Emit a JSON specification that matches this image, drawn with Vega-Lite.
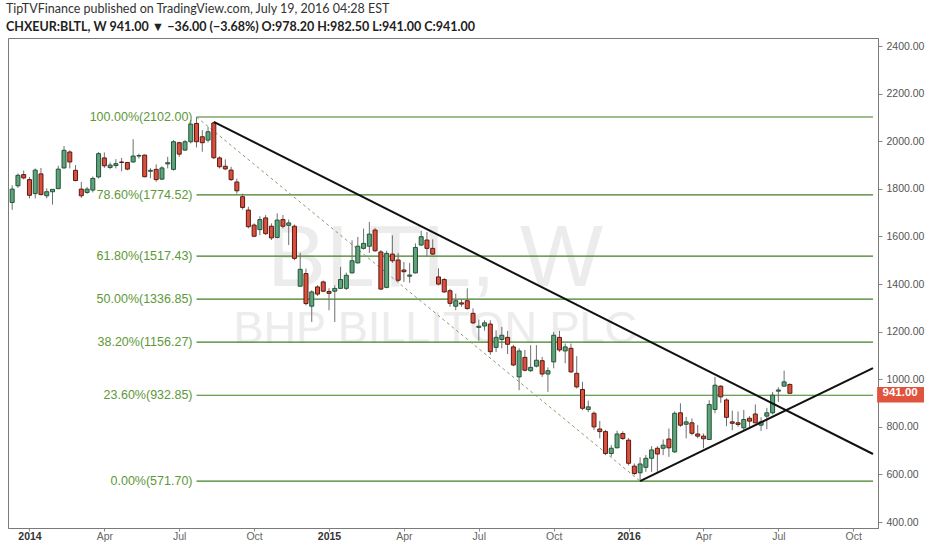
{
  "$schema": "https://vega.github.io/schema/vega-lite/v6.json",
  "width": 870,
  "height": 490,
  "autosize": {"type": "none"},
  "padding": {"left": 8, "top": 38, "right": 54, "bottom": 22},
  "background": "white",
  "title": {
    "text": "TipTVFinance published on TradingView.com, July 19, 2016 04:28 EST",
    "subtitle": "CHXEUR:BLTL, W  941.00 ▼ −36.00 (−3.68%)  O:978.20  H:982.50  L:941.00  C:941.00",
    "anchor": "start",
    "frame": "group",
    "offset": 5,
    "dx": -2,
    "font": "Lato",
    "fontSize": 12.5,
    "fontWeight": "normal",
    "color": "#333333",
    "subtitleFont": "Lato",
    "subtitleFontSize": 12.5,
    "subtitleFontWeight": "bold",
    "subtitleColor": "#222222",
    "subtitlePadding": 5
  },
  "datasets": {
    "candles": [
      {"date": "2013-12-16", "open": 1743, "high": 1815, "low": 1712, "close": 1799},
      {"date": "2013-12-23", "open": 1813, "high": 1865, "low": 1804, "close": 1857},
      {"date": "2013-12-30", "open": 1860, "high": 1877, "low": 1840, "close": 1846},
      {"date": "2014-01-06", "open": 1839, "high": 1850, "low": 1760, "close": 1773},
      {"date": "2014-01-13", "open": 1780, "high": 1886, "low": 1760, "close": 1879},
      {"date": "2014-01-20", "open": 1863, "high": 1888, "low": 1773, "close": 1776},
      {"date": "2014-01-27", "open": 1771, "high": 1802, "low": 1760, "close": 1788},
      {"date": "2014-02-03", "open": 1788, "high": 1799, "low": 1734, "close": 1798},
      {"date": "2014-02-10", "open": 1801, "high": 1897, "low": 1799, "close": 1883},
      {"date": "2014-02-17", "open": 1888, "high": 1980, "low": 1886, "close": 1962},
      {"date": "2014-02-24", "open": 1955, "high": 1962, "low": 1886, "close": 1913},
      {"date": "2014-03-03", "open": 1878, "high": 1900, "low": 1832, "close": 1835},
      {"date": "2014-03-10", "open": 1799, "high": 1829, "low": 1762, "close": 1771},
      {"date": "2014-03-17", "open": 1785, "high": 1808, "low": 1779, "close": 1799},
      {"date": "2014-03-24", "open": 1795, "high": 1852, "low": 1785, "close": 1844},
      {"date": "2014-03-31", "open": 1850, "high": 1955, "low": 1844, "close": 1948},
      {"date": "2014-04-07", "open": 1930, "high": 1953, "low": 1888, "close": 1897},
      {"date": "2014-04-14", "open": 1890, "high": 1911, "low": 1883, "close": 1900},
      {"date": "2014-04-21", "open": 1898, "high": 1925, "low": 1886, "close": 1906},
      {"date": "2014-04-28", "open": 1913, "high": 1930, "low": 1874, "close": 1911},
      {"date": "2014-05-05", "open": 1911, "high": 1913, "low": 1878, "close": 1883},
      {"date": "2014-05-12", "open": 1913, "high": 2009, "low": 1911, "close": 1938},
      {"date": "2014-05-19", "open": 1938, "high": 1948, "low": 1928, "close": 1940},
      {"date": "2014-05-26", "open": 1942, "high": 1944, "low": 1849, "close": 1851},
      {"date": "2014-06-02", "open": 1874, "high": 1887, "low": 1845, "close": 1878},
      {"date": "2014-06-09", "open": 1882, "high": 1903, "low": 1830, "close": 1839},
      {"date": "2014-06-16", "open": 1841, "high": 1895, "low": 1838, "close": 1888},
      {"date": "2014-06-23", "open": 1905, "high": 1935, "low": 1886, "close": 1910},
      {"date": "2014-06-30", "open": 1882, "high": 2005, "low": 1877, "close": 1998},
      {"date": "2014-07-07", "open": 1994, "high": 1998, "low": 1935, "close": 1946},
      {"date": "2014-07-14", "open": 1963, "high": 2005, "low": 1960, "close": 1998},
      {"date": "2014-07-21", "open": 1998, "high": 2089, "low": 1991, "close": 2072},
      {"date": "2014-07-28", "open": 2075, "high": 2102, "low": 1974, "close": 1998},
      {"date": "2014-08-04", "open": 2019, "high": 2047, "low": 1956, "close": 1994},
      {"date": "2014-08-11", "open": 2005, "high": 2061, "low": 1995, "close": 2040},
      {"date": "2014-08-18", "open": 2077, "high": 2082, "low": 1925, "close": 1931},
      {"date": "2014-08-25", "open": 1930, "high": 1937, "low": 1886, "close": 1893},
      {"date": "2014-09-01", "open": 1895, "high": 1924, "low": 1879, "close": 1884},
      {"date": "2014-09-08", "open": 1879, "high": 1893, "low": 1833, "close": 1839},
      {"date": "2014-09-15", "open": 1829, "high": 1843, "low": 1780, "close": 1792},
      {"date": "2014-09-22", "open": 1767, "high": 1780, "low": 1713, "close": 1722},
      {"date": "2014-09-29", "open": 1711, "high": 1725, "low": 1634, "close": 1641},
      {"date": "2014-10-06", "open": 1648, "high": 1655, "low": 1597, "close": 1601},
      {"date": "2014-10-13", "open": 1629, "high": 1685, "low": 1605, "close": 1671},
      {"date": "2014-10-20", "open": 1678, "high": 1690, "low": 1606, "close": 1612},
      {"date": "2014-10-27", "open": 1643, "high": 1655, "low": 1585, "close": 1594},
      {"date": "2014-11-03", "open": 1596, "high": 1697, "low": 1592, "close": 1669},
      {"date": "2014-11-10", "open": 1671, "high": 1690, "low": 1634, "close": 1643},
      {"date": "2014-11-17", "open": 1647, "high": 1671, "low": 1564, "close": 1657},
      {"date": "2014-11-24", "open": 1643, "high": 1650, "low": 1500, "close": 1508},
      {"date": "2014-12-01", "open": 1391, "high": 1531, "low": 1389, "close": 1462},
      {"date": "2014-12-08", "open": 1444, "high": 1465, "low": 1310, "close": 1318},
      {"date": "2014-12-15", "open": 1307, "high": 1374, "low": 1241, "close": 1367},
      {"date": "2014-12-22", "open": 1388, "high": 1395, "low": 1350, "close": 1358},
      {"date": "2014-12-29", "open": 1409, "high": 1415, "low": 1366, "close": 1370},
      {"date": "2015-01-05", "open": 1369, "high": 1382, "low": 1290, "close": 1361},
      {"date": "2015-01-12", "open": 1370, "high": 1395, "low": 1241, "close": 1382},
      {"date": "2015-01-19", "open": 1382, "high": 1472, "low": 1382, "close": 1419},
      {"date": "2015-01-26", "open": 1382, "high": 1448, "low": 1375, "close": 1437},
      {"date": "2015-02-02", "open": 1447, "high": 1584, "low": 1445, "close": 1498},
      {"date": "2015-02-09", "open": 1489, "high": 1598, "low": 1487, "close": 1559},
      {"date": "2015-02-16", "open": 1550, "high": 1633, "low": 1545, "close": 1571},
      {"date": "2015-02-23", "open": 1559, "high": 1661, "low": 1531, "close": 1610},
      {"date": "2015-03-02", "open": 1627, "high": 1636, "low": 1536, "close": 1540},
      {"date": "2015-03-09", "open": 1535, "high": 1543, "low": 1375, "close": 1379},
      {"date": "2015-03-16", "open": 1386, "high": 1540, "low": 1382, "close": 1529},
      {"date": "2015-03-23", "open": 1526, "high": 1605, "low": 1489, "close": 1498},
      {"date": "2015-03-30", "open": 1501, "high": 1531, "low": 1409, "close": 1416},
      {"date": "2015-04-06", "open": 1459, "high": 1493, "low": 1409, "close": 1452},
      {"date": "2015-04-13", "open": 1433, "high": 1489, "low": 1405, "close": 1438},
      {"date": "2015-04-20", "open": 1447, "high": 1571, "low": 1445, "close": 1554},
      {"date": "2015-04-27", "open": 1564, "high": 1624, "low": 1560, "close": 1599},
      {"date": "2015-05-04", "open": 1585, "high": 1619, "low": 1515, "close": 1550},
      {"date": "2015-05-11", "open": 1550, "high": 1588, "low": 1522, "close": 1526},
      {"date": "2015-05-18", "open": 1430, "high": 1466, "low": 1395, "close": 1400},
      {"date": "2015-05-25", "open": 1419, "high": 1425, "low": 1363, "close": 1367},
      {"date": "2015-06-01", "open": 1372, "high": 1380, "low": 1305, "close": 1319},
      {"date": "2015-06-08", "open": 1307, "high": 1360, "low": 1290, "close": 1330},
      {"date": "2015-06-15", "open": 1321, "high": 1335, "low": 1305, "close": 1316},
      {"date": "2015-06-22", "open": 1330, "high": 1382, "low": 1293, "close": 1297},
      {"date": "2015-06-29", "open": 1277, "high": 1298, "low": 1232, "close": 1237},
      {"date": "2015-07-06", "open": 1218, "high": 1251, "low": 1162, "close": 1223},
      {"date": "2015-07-13", "open": 1224, "high": 1248, "low": 1204, "close": 1237},
      {"date": "2015-07-20", "open": 1232, "high": 1248, "low": 1103, "close": 1116},
      {"date": "2015-07-27", "open": 1134, "high": 1206, "low": 1115, "close": 1176},
      {"date": "2015-08-03", "open": 1167, "high": 1220, "low": 1130, "close": 1185},
      {"date": "2015-08-10", "open": 1176, "high": 1203, "low": 1106, "close": 1147},
      {"date": "2015-08-17", "open": 1136, "high": 1145, "low": 1055, "close": 1060},
      {"date": "2015-08-24", "open": 1010, "high": 1130, "low": 954, "close": 1119},
      {"date": "2015-08-31", "open": 1092, "high": 1123, "low": 1033, "close": 1038},
      {"date": "2015-09-07", "open": 1036, "high": 1143, "low": 1031, "close": 1050},
      {"date": "2015-09-14", "open": 1055, "high": 1143, "low": 1050, "close": 1080},
      {"date": "2015-09-21", "open": 1078, "high": 1094, "low": 1010, "close": 1022},
      {"date": "2015-09-28", "open": 1022, "high": 1050, "low": 947, "close": 1036},
      {"date": "2015-10-05", "open": 1073, "high": 1199, "low": 1046, "close": 1185},
      {"date": "2015-10-12", "open": 1176, "high": 1203, "low": 1115, "close": 1123},
      {"date": "2015-10-19", "open": 1119, "high": 1150, "low": 1067, "close": 1136},
      {"date": "2015-10-26", "open": 1130, "high": 1150, "low": 1027, "close": 1031},
      {"date": "2015-11-02", "open": 1025, "high": 1097, "low": 961, "close": 968},
      {"date": "2015-11-09", "open": 957, "high": 989, "low": 870, "close": 878},
      {"date": "2015-11-16", "open": 873, "high": 910, "low": 862, "close": 884},
      {"date": "2015-11-23", "open": 857, "high": 865, "low": 787, "close": 800},
      {"date": "2015-11-30", "open": 791, "high": 825, "low": 752, "close": 780},
      {"date": "2015-12-07", "open": 780, "high": 787, "low": 681, "close": 688},
      {"date": "2015-12-14", "open": 688, "high": 723, "low": 675, "close": 710},
      {"date": "2015-12-21", "open": 712, "high": 784, "low": 710, "close": 770},
      {"date": "2015-12-28", "open": 772, "high": 781, "low": 745, "close": 751},
      {"date": "2016-01-04", "open": 744, "high": 753, "low": 638, "close": 647},
      {"date": "2016-01-11", "open": 635, "high": 646, "low": 597, "close": 604},
      {"date": "2016-01-18", "open": 607, "high": 672, "low": 572, "close": 644},
      {"date": "2016-01-25", "open": 630, "high": 682, "low": 611, "close": 668},
      {"date": "2016-02-01", "open": 668, "high": 719, "low": 611, "close": 703},
      {"date": "2016-02-08", "open": 710, "high": 719, "low": 611, "close": 686},
      {"date": "2016-02-15", "open": 710, "high": 747, "low": 681, "close": 723},
      {"date": "2016-02-22", "open": 749, "high": 793, "low": 674, "close": 712},
      {"date": "2016-02-29", "open": 695, "high": 865, "low": 690, "close": 857},
      {"date": "2016-03-07", "open": 859, "high": 899, "low": 800, "close": 807},
      {"date": "2016-03-14", "open": 811, "high": 842, "low": 752, "close": 821},
      {"date": "2016-03-21", "open": 817, "high": 835, "low": 765, "close": 773},
      {"date": "2016-03-28", "open": 770, "high": 808, "low": 752, "close": 761},
      {"date": "2016-04-04", "open": 761, "high": 772, "low": 710, "close": 750},
      {"date": "2016-04-11", "open": 747, "high": 912, "low": 745, "close": 894},
      {"date": "2016-04-18", "open": 873, "high": 1010, "low": 857, "close": 975},
      {"date": "2016-04-25", "open": 971, "high": 975, "low": 901, "close": 926},
      {"date": "2016-05-02", "open": 913, "high": 920, "low": 803, "close": 840},
      {"date": "2016-05-09", "open": 821, "high": 868, "low": 786, "close": 815},
      {"date": "2016-05-16", "open": 817, "high": 865, "low": 800, "close": 810},
      {"date": "2016-05-23", "open": 796, "high": 871, "low": 783, "close": 831},
      {"date": "2016-05-30", "open": 836, "high": 845, "low": 800, "close": 824},
      {"date": "2016-06-06", "open": 854, "high": 894, "low": 815, "close": 817},
      {"date": "2016-06-13", "open": 807, "high": 840, "low": 783, "close": 821},
      {"date": "2016-06-20", "open": 845, "high": 880, "low": 790, "close": 859},
      {"date": "2016-06-27", "open": 859, "high": 947, "low": 852, "close": 933},
      {"date": "2016-07-04", "open": 950, "high": 966, "low": 905, "close": 955},
      {"date": "2016-07-11", "open": 971, "high": 1036, "low": 971, "close": 989},
      {"date": "2016-07-18", "open": 978.2, "high": 982.5, "low": 941, "close": 941}
    ],
    "fib": [
      {"label": "100.00%(2102.00)", "price": 2102, "start": "2014-07-28"},
      {"label": "78.60%(1774.52)", "price": 1774.52, "start": "2014-07-28"},
      {"label": "61.80%(1517.43)", "price": 1517.43, "start": "2014-07-28"},
      {"label": "50.00%(1336.85)", "price": 1336.85, "start": "2014-07-28"},
      {"label": "38.20%(1156.27)", "price": 1156.27, "start": "2014-07-28"},
      {"label": "23.60%(932.85)", "price": 932.85, "start": "2014-07-28"},
      {"label": "0.00%(571.70)", "price": 571.7, "start": "2014-07-28"}
    ],
    "trend": [
      {"line": "resistance", "date": "2014-08-18", "price": 2082},
      {"line": "resistance", "date": "2016-10-27", "price": 686},
      {"line": "support", "date": "2016-01-18", "price": 572},
      {"line": "support", "date": "2016-10-27", "price": 1047}
    ],
    "swing": [
      {"date": "2014-07-28", "price": 2102},
      {"date": "2016-01-18", "price": 572}
    ]
  },
  "layer": [
    {
      "data": {"values": [{"t": "BLTL, W"}]},
      "mark": {"type": "text", "font": "Liberation Sans", "fontSize": 88, "color": "#ececec", "align": "center", "baseline": "middle"},
      "encoding": {
        "x": {
          "datum": {"year": 2015, "month": 5, "date": 14, "utc": true},
          "type": "temporal",
          "scale": {"type": "utc", "domain": [{"year": 2013, "month": 12, "date": 17, "utc": true}, {"year": 2016, "month": 10, "date": 27, "utc": true}]},
          "axis": {
            "title": null,
            "values": [
              {"year": 2014, "month": 1, "date": 6, "utc": true},
              {"year": 2014, "month": 4, "date": 7, "utc": true},
              {"year": 2014, "month": 7, "date": 7, "utc": true},
              {"year": 2014, "month": 10, "date": 6, "utc": true},
              {"year": 2015, "month": 1, "date": 5, "utc": true},
              {"year": 2015, "month": 4, "date": 6, "utc": true},
              {"year": 2015, "month": 7, "date": 6, "utc": true},
              {"year": 2015, "month": 10, "date": 5, "utc": true},
              {"year": 2016, "month": 1, "date": 4, "utc": true},
              {"year": 2016, "month": 4, "date": 4, "utc": true},
              {"year": 2016, "month": 7, "date": 4, "utc": true},
              {"year": 2016, "month": 10, "date": 3, "utc": true}
            ],
            "labelExpr": "utcmonth(datum.value) == 0 ? utcFormat(datum.value, '%Y') : utcFormat(datum.value, '%b')",
            "labelFontWeight": {"condition": {"test": "utcmonth(datum.value) == 0", "value": "bold"}, "value": "normal"},
            "labelColor": {"condition": {"test": "utcmonth(datum.value) == 0", "value": "#333333"}, "value": "#666666"},
            "labelFont": "Liberation Sans",
            "labelFontSize": 10.5,
            "labelPadding": 0,
            "tickSize": 3,
            "tickColor": "#888888",
            "domainColor": "#7a7a7a",
            "gridColor": "#e9e9e9",
            "labelFlush": false,
            "labelOverlap": false
          }
        },
        "y": {
          "datum": 1501,
          "type": "quantitative",
          "scale": {"domain": [375, 2434], "nice": false, "zero": false},
          "axis": {
            "title": null,
            "orient": "right",
            "values": [400, 600, 800, 1000, 1200, 1400, 1600, 1800, 2000, 2200, 2400],
            "format": ".2f",
            "labelFont": "Liberation Sans",
            "labelFontSize": 10.5,
            "labelColor": "#555555",
            "labelPadding": 4,
            "tickSize": 4,
            "tickColor": "#888888",
            "domainColor": "#7a7a7a",
            "gridColor": "#e9e9e9"
          }
        },
        "text": {"field": "t"}
      }
    },
    {
      "data": {"values": [{"t": "BHP BILLITON PLC"}]},
      "mark": {"type": "text", "font": "Liberation Sans", "fontSize": 45, "color": "#ececec", "align": "center", "baseline": "middle"},
      "encoding": {
        "x": {"datum": {"year": 2015, "month": 5, "date": 14, "utc": true}, "type": "temporal"},
        "y": {"datum": 1211, "type": "quantitative"},
        "text": {"field": "t"}
      }
    },
    {
      "data": {"name": "fib"},
      "mark": {"type": "rule", "color": "#3f7f22", "strokeWidth": 1.2},
      "encoding": {
        "x": {"field": "start", "type": "temporal"},
        "x2": {"datum": {"year": 2016, "month": 10, "date": 27, "utc": true}},
        "y": {"field": "price", "type": "quantitative"}
      }
    },
    {
      "data": {"name": "fib"},
      "mark": {"type": "text", "align": "right", "baseline": "middle", "dx": -4, "font": "Liberation Sans", "fontSize": 12.5, "color": "#5e9838"},
      "encoding": {
        "x": {"field": "start", "type": "temporal"},
        "y": {"field": "price", "type": "quantitative"},
        "text": {"field": "label"}
      }
    },
    {
      "mark": {"type": "rule", "color": "#e0352b", "strokeWidth": 1, "strokeDash": [1, 2]},
      "encoding": {"y": {"datum": 941, "type": "quantitative"}}
    },
    {
      "data": {"name": "swing"},
      "mark": {"type": "line", "color": "#8d9a6e", "strokeWidth": 1, "strokeDash": [3, 3]},
      "encoding": {
        "x": {"field": "date", "type": "temporal"},
        "y": {"field": "price", "type": "quantitative"}
      }
    },
    {
      "data": {"name": "candles"},
      "mark": {"type": "rule", "color": "#6f6f72", "strokeWidth": 1, "clip": true},
      "encoding": {
        "x": {"field": "date", "type": "temporal"},
        "y": {"field": "high", "type": "quantitative"},
        "y2": {"field": "low"}
      }
    },
    {
      "data": {"name": "candles"},
      "mark": {"type": "bar", "width": 4, "strokeWidth": 1, "clip": true},
      "encoding": {
        "x": {"field": "date", "type": "temporal"},
        "y": {"field": "open", "type": "quantitative"},
        "y2": {"field": "close"},
        "fill": {"condition": {"test": "datum.close >= datum.open", "value": "#5fa37c"}, "value": "#d9503c"},
        "stroke": {"condition": {"test": "datum.close >= datum.open", "value": "#225437"}, "value": "#5b1a13"}
      }
    },
    {
      "data": {"name": "trend"},
      "mark": {"type": "line", "color": "#111111", "strokeWidth": 2},
      "encoding": {
        "x": {"field": "date", "type": "temporal"},
        "y": {"field": "price", "type": "quantitative"},
        "detail": {"field": "line"}
      }
    },
    {
      "data": {"values": [{"t": "941.00"}]},
      "mark": {"type": "rect", "color": "#e0533d"},
      "encoding": {
        "x": {"datum": {"year": 2016, "month": 11, "date": 1, "utc": true}, "type": "temporal"},
        "x2": {"datum": {"year": 2016, "month": 12, "date": 28, "utc": true}},
        "y": {"datum": 968, "type": "quantitative"},
        "y2": {"datum": 902}
      }
    },
    {
      "data": {"values": [{"t": "941.00"}]},
      "mark": {"type": "text", "font": "Liberation Sans", "fontSize": 11.5, "fontWeight": "bold", "color": "white", "align": "center", "baseline": "middle"},
      "encoding": {
        "x": {"datum": {"year": 2016, "month": 11, "date": 29, "utc": true}, "type": "temporal"},
        "y": {"datum": 941, "type": "quantitative"},
        "text": {"field": "t"}
      }
    }
  ],
  "config": {
    "view": {"stroke": "#7a7a7a", "strokeWidth": 1},
    "axis": {"gridColor": "#e9e9e9", "domainColor": "#7a7a7a"}
  }
}
